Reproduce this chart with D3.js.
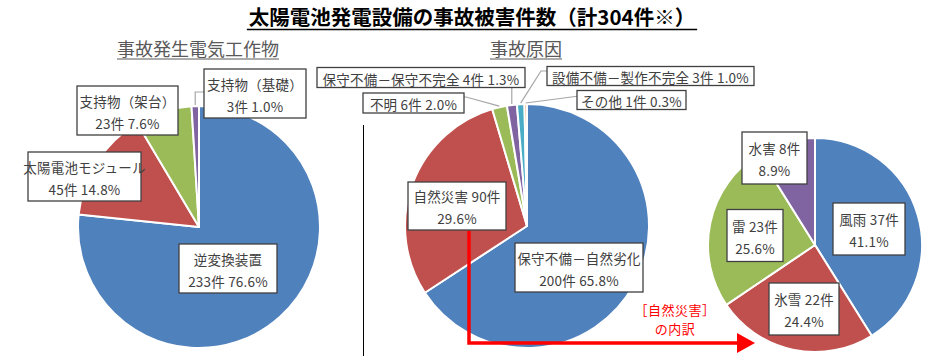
<!DOCTYPE html>
<html><head><meta charset="utf-8">
<script src="https://cdn.jsdelivr.net/npm/d3@7"></script>
<style>
html,body{margin:0;padding:0;background:#fff;}
text{font-family:"Noto Sans CJK JP","Noto Sans",sans-serif;}
</style></head>
<body><svg id="chart" width="940" height="356"></svg>
<script>
// ---- data ----
const titleText = "太陽電池発電設備の事故被害件数（計304件※）";
const leftTitle = "事故発生電気工作物";
const midTitle = "事故原因";
const breakdownNote = ["［自然災害］", "の内訳"];

const equipCats = ["逆変換装置", "太陽電池モジュール", "支持物（架台）", "支持物（基礎）"];
const equipCounts = [233, 45, 23, 3];
const equipPct = ["76.6%", "14.8%", "7.6%", "1.0%"];

const causeCats = ["保守不備－自然劣化", "自然災害", "不明", "保守不備－保守不完全", "設備不備－製作不完全", "その他"];
const causeCounts = [200, 90, 6, 4, 3, 1];
const causePct = ["65.8%", "29.6%", "2.0%", "1.3%", "1.0%", "0.3%"];

const disasterCats = ["風雨", "氷雪", "雷", "水害"];
const disasterCounts = [37, 22, 23, 8];
const disasterPct = ["41.1%", "24.4%", "25.6%", "8.9%"];

const palette = ["#4F81BD", "#C0504D", "#9BBB59", "#8064A2", "#4BACC6", "#F79646"];

// ---- drawing ----
const svg = d3.select("#chart");
const labelColor = "#404040";
const fs = 13.5;

// title
const tt = svg.append("text").attr("x", 472).attr("y", 25).attr("text-anchor", "middle")
  .attr("font-size", 20.5).attr("font-weight", "bold").attr("fill", "#000").text(titleText);
const tw = tt.node().getComputedTextLength();
svg.append("line").attr("x1", 472 - tw / 2 - 2).attr("x2", 472 + tw / 2 + 2)
  .attr("y1", 29.5).attr("y2", 29.5).attr("stroke", "#000").attr("stroke-width", 1.6);

function subTitle(txt, cx) {
  const t = svg.append("text").attr("x", cx).attr("y", 56).attr("text-anchor", "middle")
    .attr("font-size", 18).attr("fill", "#595959").text(txt);
  const w = t.node().getComputedTextLength();
  svg.append("line").attr("x1", cx - w / 2).attr("x2", cx + w / 2)
    .attr("y1", 59).attr("y2", 59).attr("stroke", "#595959").attr("stroke-width", 1);
}
subTitle(leftTitle, 198);
subTitle(midTitle, 526);

// divider
svg.append("line").attr("x1", 363.5).attr("x2", 363.5).attr("y1", 125).attr("y2", 356)
  .attr("stroke", "#000").attr("stroke-width", 1);

function drawPie(cx, cy, r, values) {
  const pie = d3.pie().sort(null).value(d => d);
  const arcs = pie(values);
  const arc = d3.arc().innerRadius(0).outerRadius(r);
  const g = svg.append("g").attr("transform", `translate(${cx},${cy})`);
  g.selectAll("path").data(arcs).join("path")
    .attr("d", arc).attr("fill", (d, i) => palette[i])
    .attr("stroke", "#fff").attr("stroke-width", 2).attr("stroke-linejoin", "round");
  return arcs;
}

function outerPoint(cx, cy, r, a) {
  const m = (a.startAngle + a.endAngle) / 2;
  return [cx + r * Math.sin(m), cy - r * Math.cos(m)];
}

function drawLabel(bx, by, lines, w, h) {
  const g = svg.append("g");
  g.append("rect").attr("x", bx - w / 2).attr("y", by - h / 2).attr("width", w).attr("height", h)
    .attr("fill", "#fff").attr("stroke", "#404040").attr("stroke-width", 1.3);
  const n = lines.length;
  const spacing = 22;
  lines.forEach((s, k) => g.append("text")
    .attr("x", bx).attr("y", by + (k - (n - 1) / 2) * spacing + 1)
    .attr("text-anchor", "middle").attr("dominant-baseline", "central")
    .attr("font-size", fs).attr("letter-spacing", 0.2).attr("fill", labelColor).text(s));
}

function leader(points) {
  svg.append("polyline").attr("points", points.map(p => p.join(",")).join(" "))
    .attr("fill", "none").attr("stroke", "#A6A6A6").attr("stroke-width", 1.2);
}

// ---------- left pie ----------
const L = { cx: 199, cy: 227, r: 121 };
const lArcs = drawPie(L.cx, L.cy, L.r, equipCounts);
const lBox = [[228, 268.5, 98], [84.5, 176.5, 113], [127.5, 110.5, 101], [255, 93.5, 102]];
{
  const p = outerPoint(L.cx, L.cy, L.r + 1, lArcs[3]);
  leader([[p[0], p[1]], [p[0], 92], [206, 92]]);
}
equipCats.forEach((c, i) =>
  drawLabel(lBox[i][0], lBox[i][1], [c, `${equipCounts[i]}件 ${equipPct[i]}`], lBox[i][2], 49));

// ---------- middle pie ----------
const M = { cx: 527, cy: 226, r: 122 };
const mArcs = drawPie(M.cx, M.cy, M.r, causeCounts);
const mLabels = [
  { lines: [causeCats[0], `${causeCounts[0]}件 ${causePct[0]}`], box: [579, 267.5, 128, 49] },
  { lines: [`${causeCats[1]} ${causeCounts[1]}件`, causePct[1]], box: [457, 206, 98, 48] },
  { lines: [`${causeCats[2]} ${causeCounts[2]}件 ${causePct[2]}`], box: [413.5, 103, 101, 20] },
  { lines: [`${causeCats[3]} ${causeCounts[3]}件 ${causePct[3]}`], box: [421, 77.5, 208, 20] },
  { lines: [`${causeCats[4]} ${causeCounts[4]}件 ${causePct[4]}`], box: [650.5, 76, 207, 19] },
  { lines: [`${causeCats[5]} ${causeCounts[5]}件 ${causePct[5]}`], box: [631.5, 100, 109, 19] }
];
{
  const p2 = outerPoint(M.cx, M.cy, M.r + 1, mArcs[2]);
  leader([[p2[0], p2[1]], [466, 97], [462, 97]]);
  const p3 = outerPoint(M.cx, M.cy, M.r + 1, mArcs[3]);
  leader([[p3[0], p3[1]], [p3[0], 86]]);
  const p4 = outerPoint(M.cx, M.cy, M.r + 1, mArcs[4]);
  leader([[p4[0], p4[1]], [541, 71], [549, 71]]);
  const p5 = outerPoint(M.cx, M.cy, M.r + 1, mArcs[5]);
  leader([[p5[0], p5[1]], [579, 96]]);
}
mLabels.forEach(b => drawLabel(b.box[0], b.box[1], b.lines, b.box[2], b.box[3]));

// ---------- right pie ----------
const R = { cx: 815, cy: 245, r: 107 };
drawPie(R.cx, R.cy, R.r, disasterCounts);
const rBox = [[869, 229, 72], [804, 309, 70], [755, 235.5, 56], [774.5, 158, 65]];
disasterCats.forEach((c, i) =>
  drawLabel(rBox[i][0], rBox[i][1], [`${c} ${disasterCounts[i]}件`, disasterPct[i]], rBox[i][2], 52));

// ---------- red arrow ----------
svg.append("polyline").attr("points", "469,231 469,343 739,343")
  .attr("fill", "none").attr("stroke", "#FF0000").attr("stroke-width", 3.5);
svg.append("path").attr("d", "M737,333 L755,343 L737,353 Z").attr("fill", "#FF0000");
breakdownNote.forEach((s, k) => svg.append("text").attr("x", 675).attr("y", 309 + k * 19)
  .attr("text-anchor", "middle").attr("dominant-baseline", "central")
  .attr("font-size", 13).attr("letter-spacing", 0.5).attr("fill", "#FF0000").text(s));
</script></body></html>
